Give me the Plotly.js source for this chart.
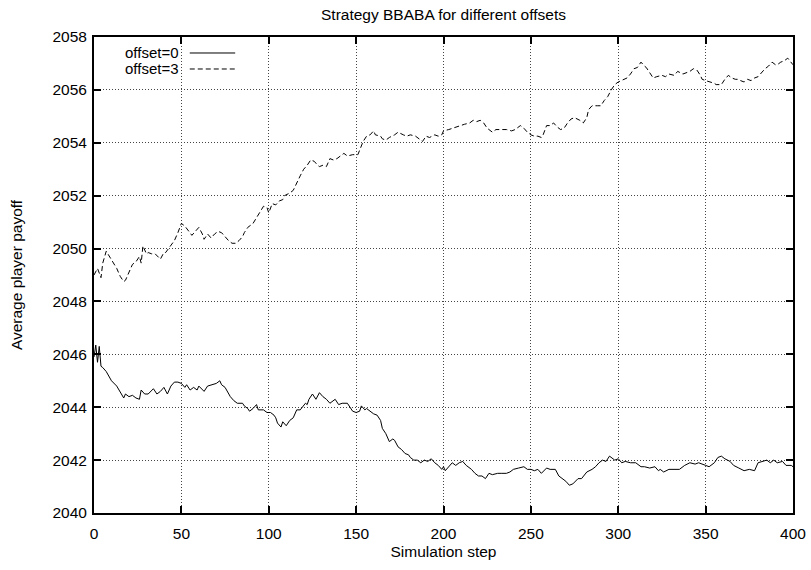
<!DOCTYPE html>
<html>
<head>
<meta charset="utf-8">
<script src="https://cdn.plot.ly/plotly-3.0.1.min.js"></script>
<style>html,body{margin:0;padding:0;background:#fff;}#chart{width:811px;height:570px;}</style>
</head>
<body>
<div id="chart"></div>
<script>
// ---- data ----
const seriesNames = ["offset=0", "offset=3"];

const steps0 = [0,1,2,3,4,5,7,10,13,15,17,18,20,22,24,26,27,29,31,34,36,38,40,42,44,46,48,50,52,53,55,57,59,60,62,63,65,68,70,72,73,75,78,80,82,85,86,88,89,91,93,94,97,99,101,103,104,105,107,108,110,112,114,116,118,121,122,123,125,127,129,131,133,135,138,140,142,145,146,148,150,152,153,155,156,158,160,162,164,165,167,169,171,172,174,176,178,180,181,183,185,187,189,191,193,195,197,199,200,201,203,205,207,209,211,213,216,218,220,222,224,226,228,231,233,236,238,240,243,246,248,250,252,254,256,259,261,264,266,268,270,272,274,277,279,282,285,287,289,291,293,295,298,300,302,304,307,310,313,315,318,321,323,324,326,329,332,335,338,341,344,346,350,352,355,357,359,361,364,366,369,372,375,378,380,383,385,387,389,391,394,396,399,400];
const payoff0 = [2045.9,2046.35,2045.7,2046.3,2045.55,2045.5,2045.35,2045.0,2044.8,2044.6,2044.35,2044.5,2044.4,2044.45,2044.35,2044.3,2044.65,2044.5,2044.5,2044.7,2044.5,2044.6,2044.75,2044.5,2044.8,2044.95,2044.95,2044.9,2044.75,2044.85,2044.65,2044.75,2044.65,2044.8,2044.65,2044.6,2044.8,2044.85,2044.9,2045.0,2044.85,2044.75,2044.4,2044.25,2044.15,2044.15,2044.05,2043.95,2043.85,2043.95,2044.1,2043.9,2043.9,2043.8,2043.8,2043.7,2043.6,2043.4,2043.25,2043.45,2043.3,2043.5,2043.6,2043.9,2043.9,2044.15,2044.1,2044.3,2044.5,2044.3,2044.55,2044.4,2044.3,2044.15,2044.3,2044.1,2044.15,2044.15,2044.05,2043.85,2043.8,2043.85,2044.05,2043.9,2043.95,2043.85,2043.75,2043.7,2043.5,2043.2,2043.0,2042.7,2042.8,2042.75,2042.5,2042.4,2042.25,2042.2,2042.1,2042.0,2042.0,2041.9,2042.0,2041.95,2042.05,2041.9,2041.8,2041.65,2041.75,2041.6,2041.75,2041.9,2041.8,2041.9,2041.95,2041.8,2041.65,2041.5,2041.4,2041.4,2041.3,2041.5,2041.45,2041.5,2041.5,2041.5,2041.55,2041.65,2041.7,2041.75,2041.65,2041.65,2041.6,2041.65,2041.5,2041.7,2041.65,2041.65,2041.4,2041.3,2041.2,2041.05,2041.1,2041.3,2041.3,2041.55,2041.65,2041.75,2041.9,2042.0,2041.95,2042.15,2042.0,2042.05,2041.9,2041.95,2041.9,2041.9,2041.75,2041.75,2041.7,2041.75,2041.6,2041.65,2041.55,2041.65,2041.65,2041.65,2041.8,2041.9,2041.85,2041.9,2041.8,2041.75,2041.9,2042.1,2042.15,2042.05,2041.95,2041.8,2041.7,2041.6,2041.65,2041.6,2041.9,2041.95,2042.0,2041.9,2042.0,2041.9,2041.95,2041.8,2041.8,2041.75];

const steps3 = [0,1,2,4,5,7,9,11,13,15,17,18,20,22,24,26,27,28,30,31,33,35,38,40,41,44,46,48,50,52,54,56,58,60,62,63,65,67,69,71,73,75,77,79,81,83,85,86,88,91,93,95,97,99,100,102,104,106,108,109,112,114,116,118,120,122,124,126,128,129,131,133,135,137,139,141,143,145,148,151,152,154,156,158,160,161,164,165,167,169,172,174,177,179,181,184,186,188,190,192,195,197,199,200,203,205,207,210,212,215,217,219,221,223,225,228,230,233,236,239,241,244,246,248,250,252,254,256,257,259,261,263,265,267,269,271,273,275,278,280,282,283,285,288,290,292,294,296,298,300,302,303,305,307,309,311,313,315,316,318,320,322,325,327,329,332,334,337,339,341,343,345,347,348,350,353,355,356,359,361,363,365,367,369,370,372,374,376,378,380,382,384,386,388,390,391,393,395,397,399,400];
const payoff3 = [2049.0,2049.15,2049.25,2048.9,2049.45,2049.9,2049.7,2049.45,2049.25,2048.95,2048.75,2048.8,2049.1,2049.4,2049.5,2049.7,2049.45,2050.1,2049.8,2049.85,2049.8,2049.8,2049.6,2049.85,2049.85,2050.1,2050.3,2050.6,2050.95,2050.85,2050.65,2050.5,2050.65,2050.8,2050.55,2050.35,2050.55,2050.4,2050.55,2050.65,2050.6,2050.45,2050.3,2050.2,2050.2,2050.3,2050.45,2050.6,2050.8,2050.95,2051.15,2051.35,2051.6,2051.55,2051.35,2051.7,2051.65,2051.8,2051.85,2052.0,2052.1,2052.2,2052.5,2052.75,2053.0,2053.15,2053.35,2053.3,2053.15,2053.1,2053.15,2053.1,2053.4,2053.35,2053.4,2053.5,2053.6,2053.5,2053.55,2053.55,2053.7,2054.05,2054.25,2054.3,2054.45,2054.3,2054.25,2054.15,2054.1,2054.2,2054.3,2054.4,2054.3,2054.25,2054.3,2054.25,2054.15,2054.05,2054.25,2054.2,2054.3,2054.25,2054.3,2054.45,2054.5,2054.55,2054.6,2054.65,2054.7,2054.75,2054.85,2054.8,2054.85,2054.75,2054.55,2054.4,2054.5,2054.5,2054.5,2054.45,2054.5,2054.65,2054.55,2054.4,2054.3,2054.25,2054.25,2054.2,2054.3,2054.65,2054.65,2054.75,2054.6,2054.5,2054.55,2054.75,2054.9,2054.95,2054.85,2054.75,2054.95,2055.25,2055.4,2055.4,2055.4,2055.6,2055.75,2056.0,2056.2,2056.3,2056.35,2056.4,2056.45,2056.6,2056.8,2056.85,2057.05,2056.9,2056.85,2056.65,2056.45,2056.5,2056.55,2056.5,2056.6,2056.55,2056.7,2056.6,2056.65,2056.7,2056.8,2056.75,2056.55,2056.4,2056.35,2056.3,2056.25,2056.2,2056.2,2056.4,2056.55,2056.45,2056.4,2056.4,2056.35,2056.3,2056.4,2056.35,2056.45,2056.5,2056.65,2056.8,2056.9,2057.05,2056.95,2056.95,2057.05,2057.1,2057.2,2057.0,2056.95];

const xTicks = [0,50,100,150,200,250,300,350,400];
const yTicks = [2040,2042,2044,2046,2048,2050,2052,2054,2056,2058];

// ---- styling ----
const FONT = "Liberation Sans, Arial, Helvetica, sans-serif";
const FS = 15.5;
const dashes = ["solid", "5px,3px"];

const traces = [
  {x: steps0, y: payoff0, name: seriesNames[0], type: "scatter", mode: "lines",
   line: {color: "#000", width: 1, dash: dashes[0]}, showlegend: false},
  {x: steps3, y: payoff3, name: seriesNames[1], type: "scatter", mode: "lines",
   line: {color: "#000", width: 1, dash: dashes[1]}, showlegend: false}
];

// custom gnuplot-style key: text then line sample on its right
const keyRowsY = [0.9664, 0.9328];
const annotations = seriesNames.map((n, i) => ({
  xref: "paper", yref: "paper", x: 0.1245, y: keyRowsY[i],
  xanchor: "right", yanchor: "middle", text: n, showarrow: false,
  font: {family: FONT, size: 15, color: "#000"}
}));
const shapes = seriesNames.map((n, i) => ({
  type: "line", xref: "paper", yref: "paper",
  x0: 0.137, x1: 0.202, y0: keyRowsY[i], y1: keyRowsY[i],
  line: {color: "#000", width: 1, dash: dashes[i]}
}));

const axisCommon = {
  showline: true, linecolor: "#000", linewidth: 2, mirror: "ticks",
  ticks: "inside", ticklen: 7, tickwidth: 2, tickcolor: "#000",
  showgrid: true, gridcolor: "#444", gridwidth: 1, griddash: "1px,2px",
  zeroline: false, tickfont: {family: FONT, size: FS, color: "#000"}
};

const layout = {
  width: 811, height: 570,
  margin: {l: 94, r: 18, t: 37, b: 57},
  paper_bgcolor: "#fff", plot_bgcolor: "#fff",
  font: {family: FONT, size: FS, color: "#000"},
  title: {text: "Strategy BBABA for different offsets", xref: "paper", x: 0.5, xanchor: "center",
          yref: "container", y: 0.974, yanchor: "middle", font: {family: FONT, size: FS, color: "#000"}},
  xaxis: Object.assign({}, axisCommon, {
    range: [0, 400], tickvals: xTicks, ticktext: xTicks.map(String),
    ticklabelstandoff: 5,
    title: {text: "Simulation step", standoff: 6, font: {family: FONT, size: FS, color: "#000"}}
  }),
  yaxis: Object.assign({}, axisCommon, {
    range: [2040, 2058], tickvals: yTicks, ticktext: yTicks.map(String),
    ticklabelstandoff: 2,
    title: {text: "Average player payoff", standoff: 26, font: {family: FONT, size: FS, color: "#000"}}
  }),
  annotations: annotations,
  shapes: shapes
};

Plotly.newPlot("chart", traces, layout, {displayModeBar: false, staticPlot: true});
</script>
</body>
</html>
